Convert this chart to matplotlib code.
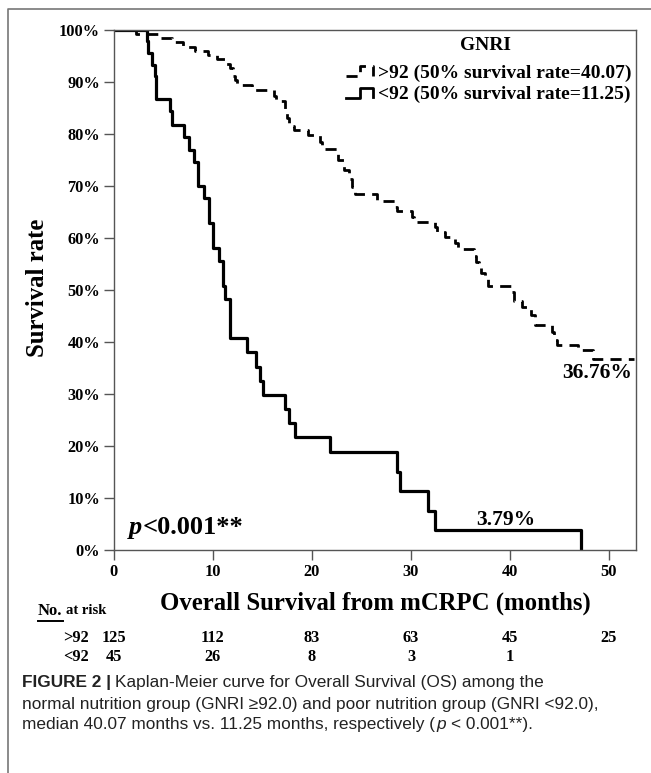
import numpy as np
import matplotlib
matplotlib.use('Agg')
import matplotlib.pyplot as plt
import matplotlib.transforms as mtrans
from matplotlib.lines import Line2D
from matplotlib.legend_handler import HandlerBase

# Kaplan-Meier steps (months, survival %)
high_t = [0, 2.2, 4.6, 5.9, 7.0, 8.2, 9.5, 10.4, 11.2, 11.7, 12.0, 12.2, 12.4, 13.9, 16.2,
          16.4, 17.3, 17.5, 17.7, 18.2, 19.6, 20.8, 21.0, 22.6, 23.2, 23.7, 24.0, 24.3, 26.6,
          28.4, 28.6, 30.1, 30.3, 32.4, 32.6, 33.4, 34.4, 34.7, 36.4, 36.6, 36.9, 37.1, 37.5,
          37.8, 40.07, 40.4, 41.2, 42.1, 42.5, 44.2, 44.4, 44.7, 46.9, 48.4, 52.5]
high_s = [100, 99.2, 98.4, 97.6, 96.8, 96.0, 95.2, 94.4, 93.5, 92.7, 91.1, 90.3, 89.4, 88.5, 87.4,
          86.4, 84.8, 83.1, 81.5, 80.7, 79.8, 78.5, 77.1, 75.0, 73.1, 71.4, 69.8, 68.5, 67.2,
          66.0, 65.2, 64.0, 63.1, 62.1, 61.2, 60.2, 59.0, 57.9, 56.5, 55.4, 54.2, 53.3, 52.3,
          50.8, 49.6, 47.9, 46.7, 45.2, 43.3, 41.9, 40.4, 39.4, 38.5, 36.76, 36.76]

low_t = [0, 3.3, 3.4, 3.8, 4.1, 4.2, 5.7, 5.9, 7.1, 7.6, 8.1, 8.5, 9.1, 9.6, 10.0, 10.6,
         11.0, 11.25, 11.7, 13.4, 14.3, 14.7, 15.1, 17.3, 17.7, 18.3, 21.8, 28.6, 28.9,
         31.7, 32.4, 47.2]
low_s = [100, 97.8, 95.6, 93.3, 91.1, 86.7, 84.4, 81.7, 79.4, 77.0, 74.6, 70.0, 67.6, 62.8,
         58.0, 55.6, 50.8, 48.3, 40.8, 38.0, 35.2, 32.5, 29.8, 27.1, 24.4, 21.7, 18.8, 15.0,
         11.3, 7.5, 3.79, 0]

group_labels = ['>92 (50% survival rate=40.07)', '<92 (50% survival rate=11.25)']
risk_times = [0, 10, 20, 30, 40, 50]
risk_high = [125, 112, 83, 63, 45, 25]
risk_low = [45, 26, 8, 3, 1]
x_ticks = [0, 10, 20, 30, 40, 50]
y_ticks = [0, 10, 20, 30, 40, 50, 60, 70, 80, 90, 100]

plt.rcParams['font.family'] = ['Liberation Serif', 'DejaVu Serif']
plt.rcParams['font.weight'] = 'bold'

W, H = 651, 773
fig = plt.figure(figsize=(W / 100, H / 100), dpi=100)
ax = fig.add_axes([114 / W, 1 - 550 / H, (636 - 114) / W, 520 / H])
renderer = fig.canvas.get_renderer()

ax.step(high_t, high_s, where='post', color='black', lw=2.0, linestyle=(0, (4, 2.6)))
ax.step(low_t, low_s, where='post', color='black', lw=2.3)

ax.set_xlim(0, 52.73)
ax.set_ylim(0, 100)
ax.set_xticks(x_ticks)
ax.set_yticks(y_ticks)
ax.set_yticklabels([f'{v}%' for v in y_ticks])
ax.tick_params(direction='out', length=7, width=1, color='#555555', labelsize=11.8, pad=3)
for sp in ax.spines.values():
    sp.set_color('#555555')
    sp.set_linewidth(1)


class StepHandler(HandlerBase):
    def create_artists(self, legend, orig_handle, xdescent, ydescent, width, height, fontsize, trans):
        fx = np.array([0, 0.45, 0.45, 0.9, 0.9])
        fy = np.array([0.1, 0.1, 0.85, 0.85, 0.15])
        ln = Line2D([], [])
        ln.update_from(orig_handle)
        ln.set_data(fx * width - xdescent, fy * height - ydescent)
        ln.set_linewidth(2.0)
        ln.set_transform(trans)
        return [ln]


fig.text(485 / W, 1 - 45 / H, 'GNRI', ha='center', va='center', size=14)
leg = ax.legend(ax.get_lines(), group_labels, loc='upper right',
                bbox_to_anchor=(631 / W, 1 - 64 / H), bbox_transform=fig.transFigure,
                frameon=False, prop=dict(family='Liberation Serif', weight='bold', size=14),
                handlelength=1.5, handletextpad=0.1, labelspacing=0.2, borderpad=0,
                borderaxespad=0, handler_map={Line2D: StepHandler()})

ax.text(48.8, 34.0, '36.76%', ha='center', va='center', size=15.5)
ax.text(39.6, 5.8, '3.79%', ha='center', va='center', size=15.5)
tp = ax.text(1.5, 4.3, 'p', ha='left', va='center', size=19, style='italic')
pb = tp.get_window_extent(renderer)
px = ax.transData.inverted().transform((pb.x1 + 1, 0))[0]
ax.text(px, 4.3, '<0.001**', ha='left', va='center', size=19)

fig.text(38 / W, 1 - 288 / H, 'Survival rate', rotation=90, ha='center', va='center', size=17.8)
fig.text(375 / W, 1 - 603 / H, 'Overall Survival from mCRPC (months)', ha='center',
         va='center', size=17.8)

# number at risk table
blend = mtrans.blended_transform_factory(ax.transData, fig.transFigure)
t_no = fig.text(38 / W, 1 - 611 / H, 'No.', ha='left', va='center', size=12)
bb = t_no.get_window_extent(renderer)
fig.add_artist(Line2D([bb.x0 / W, bb.x1 / W], [(bb.y0 - 2) / H, (bb.y0 - 2) / H],
                      transform=fig.transFigure, color='black', lw=1.4))
fig.text((bb.x1 + 3) / W, 1 - 611 / H, 'at risk', ha='left', va='center', size=10.5)
fig.text(63 / W, 1 - 638 / H, '>92', ha='left', va='center', size=11.8)
fig.text(63 / W, 1 - 657 / H, '<92', ha='left', va='center', size=11.8)
for x, n in zip(risk_times, risk_high):
    ax.text(x, 1 - 638 / H, str(n), transform=blend, ha='center', va='center', size=11.8)
for x, n in zip(risk_times, risk_low):
    ax.text(x, 1 - 657 / H, str(n), transform=blend, ha='center', va='center', size=11.8)

# frame lines of the figure panel
fig.add_artist(Line2D([8 / W, 8 / W, 1], [0, 1 - 9 / H, 1 - 9 / H], transform=fig.transFigure,
                      color='#777777', lw=1.2))


def chain(x, y, text, size=12.4, **props):
    t = fig.text(x / W, 1 - y / H, text, ha='left', va='center', size=size,
                 family=['Liberation Sans', 'DejaVu Sans'], color='#222222', **props)
    return x + t.get_window_extent(renderer).width


x1 = chain(22, 683, 'FIGURE 2 |', weight='bold')
chain(x1 + 4, 683, 'Kaplan-Meier curve for Overall Survival (OS) among the', weight='normal')
chain(22, 704, 'normal nutrition group (GNRI \u226592.0) and poor nutrition group (GNRI <92.0),',
      weight='normal')
x3 = chain(22, 725, 'median 40.07 months vs. 11.25 months, respectively (', weight='normal')
x3 = chain(x3 + 1, 725, 'p', weight='normal', style='italic')
chain(x3 + 5, 725, '< 0.001**).', weight='normal')

fig.savefig('out.png', dpi=100)
